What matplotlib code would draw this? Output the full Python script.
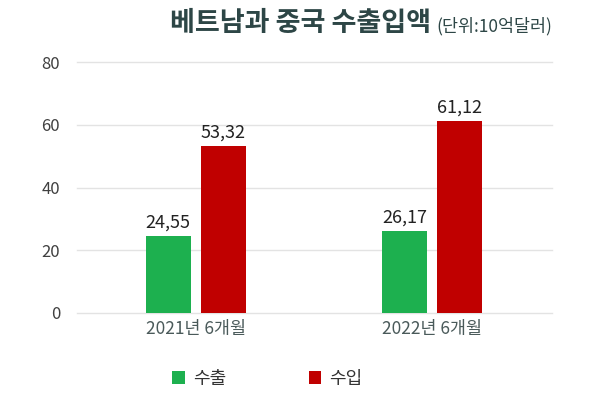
import matplotlib
matplotlib.use("Agg")
import matplotlib.pyplot as plt
import numpy as np

plt.rcParams['font.family'] = ['Noto Sans CJK KR', 'DejaVu Sans']

categories = ['2021년 6개월', '2022년 6개월']
series_names = ['수출', '수입']
exports = [24.55, 26.17]
imports = [53.32, 61.12]
value_labels_exp = ['24,55', '26,17']
value_labels_imp = ['53,32', '61,12']
yticks = [0, 20, 40, 60, 80]

green = '#1DB04F'
red = '#C00000'

fig = plt.figure(figsize=(6, 3.98), dpi=100)
ax = fig.add_axes([0.128, 0.2136, 0.792, 0.630])

x = np.arange(len(categories))
w = 0.19
off = 0.117
b1 = ax.bar(x - off, exports, w, color=green, label=series_names[0], zorder=3)
b2 = ax.bar(x + off, imports, w, color=red, label=series_names[1], zorder=3)

for rect, lab in zip(b1, value_labels_exp):
    ax.text(rect.get_x() + rect.get_width() / 2, rect.get_height() + 1.5, lab,
            ha='center', va='bottom', fontsize=13, color='#222222', zorder=4)
for rect, lab in zip(b2, value_labels_imp):
    ax.text(rect.get_x() + rect.get_width() / 2, rect.get_height() + 1.5, lab,
            ha='center', va='bottom', fontsize=13, color='#222222', zorder=4)

ax.set_xlim(-0.504, 1.508)
ax.set_ylim(0, 80)
ax.set_yticks(yticks)
ax.set_yticklabels([str(v) for v in yticks], fontsize=12, color='#404040')
ax.set_xticks(x)
ax.set_xticklabels(categories, fontsize=12.5, color='#4A5A5A')
ax.tick_params(axis='both', length=0)
ax.tick_params(axis='y', pad=12)
ax.tick_params(axis='x', pad=5)
ax.grid(axis='y', color='#E3E3E3', linewidth=1, zorder=0)
for gl in ax.get_ygridlines():
    gl.set_clip_on(False)
for s in ax.spines.values():
    s.set_visible(False)

fig.text(0.283, 0.922, '베트남과 중국 수출입액', fontsize=19.5, fontweight='bold',
         color='#2D4646', ha='left', va='baseline')
fig.text(0.727, 0.922, '(단위:10억달러)', fontsize=12.5, color='#2D4646',
         ha='left', va='baseline')

leg = fig.legend(handles=[b1, b2], labels=series_names, loc='center',
                 bbox_to_anchor=(0.446, 0.048), ncol=2, frameon=False,
                 fontsize=13, handlelength=0.68, handleheight=0.68,
                 columnspacing=4.6, handletextpad=0.45)
for t in leg.get_texts():
    t.set_color('#333333')

fig.savefig('out.png', dpi=100)
